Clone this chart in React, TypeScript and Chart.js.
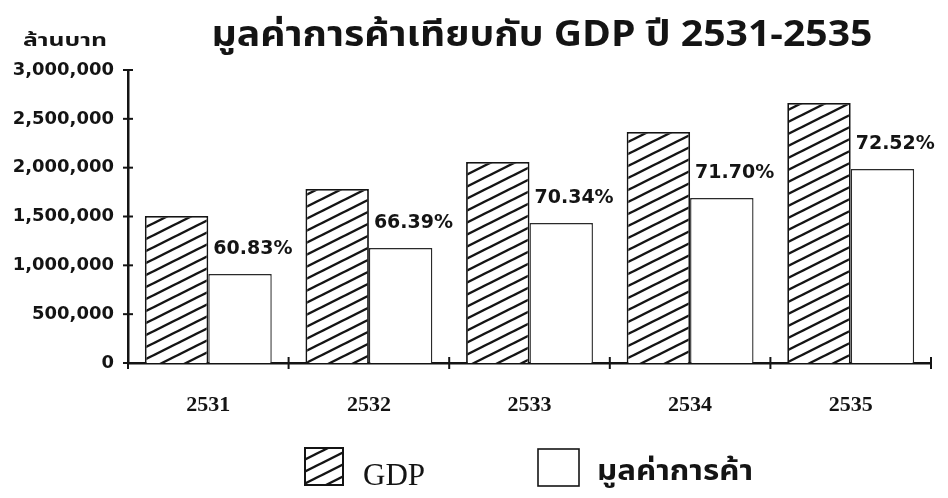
import React, { useEffect, useRef } from "react";
import { Chart, registerables } from "chart.js";

Chart.register(...registerables);

// ---- data ----
const categories = ["2531", "2532", "2533", "2534", "2535"];
const gdpValues = [1505000, 1782000, 2058000, 2365000, 2662000];
const tradeValues = [911000, 1177000, 1433000, 1689000, 1986000];
const shareLabels = ["60.83%", "66.39%", "70.34%", "71.70%", "72.52%"];
const seriesNames = ["GDP", "มูลค่าการค้า"];
const titleText = "มูลค่าการค้าเทียบกับ GDP ปี 2531-2535";
const unitText = "ล้านบาท";
const yMax = 3000000;
const yStep = 500000;

const INK = "#141414";
const THAI = "'Noto Sans Thai', 'Loma', 'Garuda', 'Norasi', 'DejaVu Sans', sans-serif";

function makeHatch(): CanvasPattern | string {
  const c = document.createElement("canvas");
  c.width = 24;
  c.height = 12;
  const g = c.getContext("2d");
  if (!g) return "#fff";
  g.fillStyle = "#fff";
  g.fillRect(0, 0, 24, 12);
  g.strokeStyle = INK;
  g.lineWidth = 2.4;
  for (const off of [-12, 0, 12]) {
    g.beginPath();
    g.moveTo(-4, 12 + off + 2);
    g.lineTo(28, off - 2);
    g.stroke();
  }
  const ctx = document.createElement("canvas").getContext("2d");
  return ctx ? (ctx.createPattern(c, "repeat") as CanvasPattern) : "#fff";
}

function fitText(
  ctx: CanvasRenderingContext2D,
  text: string,
  x: number,
  y: number,
  width: number,
  align: "left" | "center"
) {
  const w = ctx.measureText(text).width;
  const s = width / w;
  ctx.save();
  ctx.translate(x, y);
  ctx.scale(s, 1);
  ctx.textAlign = align;
  ctx.fillText(text, 0, 0);
  ctx.restore();
}

const decorPlugin = {
  id: "decor",
  afterDatasetsDraw(chart: any) {
    const ctx: CanvasRenderingContext2D = chart.ctx;
    const area = chart.chartArea;
    const xs = chart.scales.x;
    const ys = chart.scales.y;
    ctx.save();
    ctx.strokeStyle = INK;
    ctx.lineWidth = 2;
    // y-axis tick crosses
    for (let v = 0; v <= yMax; v += yStep) {
      const y = ys.getPixelForValue(v);
      ctx.beginPath();
      ctx.moveTo(area.left - 5, y);
      ctx.lineTo(area.left + 5, y);
      ctx.stroke();
    }
    // x-axis tick crosses at category boundaries
    const n = categories.length;
    for (let i = 0; i <= n; i++) {
      const x = xs.left + (i * (xs.right - xs.left)) / n;
      ctx.beginPath();
      ctx.moveTo(x, area.bottom - 6);
      ctx.lineTo(x, area.bottom + 6);
      ctx.stroke();
    }
    // percentage labels
    const meta = chart.getDatasetMeta(1);
    ctx.fillStyle = INK;
    ctx.font = "bold 19px 'DejaVu Sans'";
    ctx.textAlign = "left";
    ctx.textBaseline = "middle";
    meta.data.forEach((bar: any, i: number) => {
      ctx.fillText(shareLabels[i], bar.x - bar.width / 2 + 5, bar.y - 25);
    });
    ctx.restore();
  },
  afterDraw(chart: any) {
    const ctx: CanvasRenderingContext2D = chart.ctx;
    ctx.save();
    ctx.fillStyle = INK;
    ctx.textBaseline = "alphabetic";
    // title
    ctx.font = `bold 36px ${THAI}`;
    fitText(ctx, titleText, 534, 38, 661, "center");
    // unit label
    ctx.font = `bold 17px ${THAI}`;
    fitText(ctx, unitText, 15, 38, 84, "left");
    // legend
    const ds = chart.data.datasets;
    ctx.lineWidth = 2;
    ctx.strokeStyle = INK;
    ctx.fillStyle = ds[0].backgroundColor;
    ctx.fillRect(297, 440, 38, 37);
    ctx.strokeRect(297, 440, 38, 37);
    ctx.fillStyle = "#fff";
    ctx.lineWidth = 1.6;
    ctx.fillRect(530, 441, 41, 37);
    ctx.strokeRect(530, 441, 41, 37);
    ctx.fillStyle = INK;
    ctx.font = "31px 'Liberation Serif'";
    ctx.textAlign = "left";
    ctx.fillText(seriesNames[0], 355, 477);
    ctx.font = `bold 28px ${THAI}`;
    fitText(ctx, seriesNames[1], 589, 472, 156, "left");
    ctx.restore();
  },
};

export default function App() {
  const ref = useRef<HTMLCanvasElement | null>(null);
  useEffect(() => {
    if (!ref.current) return;
    const hatch = makeHatch();
    const chart = new Chart(ref.current, {
      type: "bar",
      data: {
        labels: categories,
        datasets: [
          {
            label: seriesNames[0],
            data: gdpValues,
            backgroundColor: hatch as any,
            borderColor: INK,
            borderWidth: 1.8,
            categoryPercentage: 0.79,
            barPercentage: 1.0,
          },
          {
            label: seriesNames[1],
            data: tradeValues,
            backgroundColor: "#ffffff",
            borderColor: "#2a2a2a",
            borderWidth: 1.4,
            categoryPercentage: 0.79,
            barPercentage: 1.0,
          },
        ],
      },
      options: {
        animation: false,
        responsive: true,
        maintainAspectRatio: false,
        layout: { padding: { top: 62, right: 9, left: 0, bottom: 0 } },
        plugins: {
          legend: { display: false },
          title: { display: false },
          tooltip: { enabled: false },
        },
        scales: {
          x: {
            grid: { display: false, drawTicks: false },
            border: { display: true, color: INK, width: 2.5 },
            ticks: {
              color: INK,
              font: { family: "'Liberation Serif'", size: 22, weight: "bold" },
              padding: 29,
            },
            afterFit(scale: any) {
              scale.height = 127;
            },
          },
          y: {
            min: 0,
            max: yMax,
            grid: { display: false, drawTicks: false },
            border: { display: true, color: INK, width: 2.5 },
            ticks: {
              stepSize: yStep,
              color: INK,
              font: { family: "'DejaVu Sans'", size: 18, weight: "bold" },
              padding: 14,
              callback: (v: any) => Number(v).toLocaleString("en-US"),
            },
            afterFit(scale: any) {
              scale.width = 120;
            },
          },
        },
      },
      plugins: [decorPlugin],
    });
    return () => chart.destroy();
  }, []);
  return (
    <div style={{ width: 932, height: 482, position: "relative" }}>
      <canvas ref={ref} />
    </div>
  );
}
